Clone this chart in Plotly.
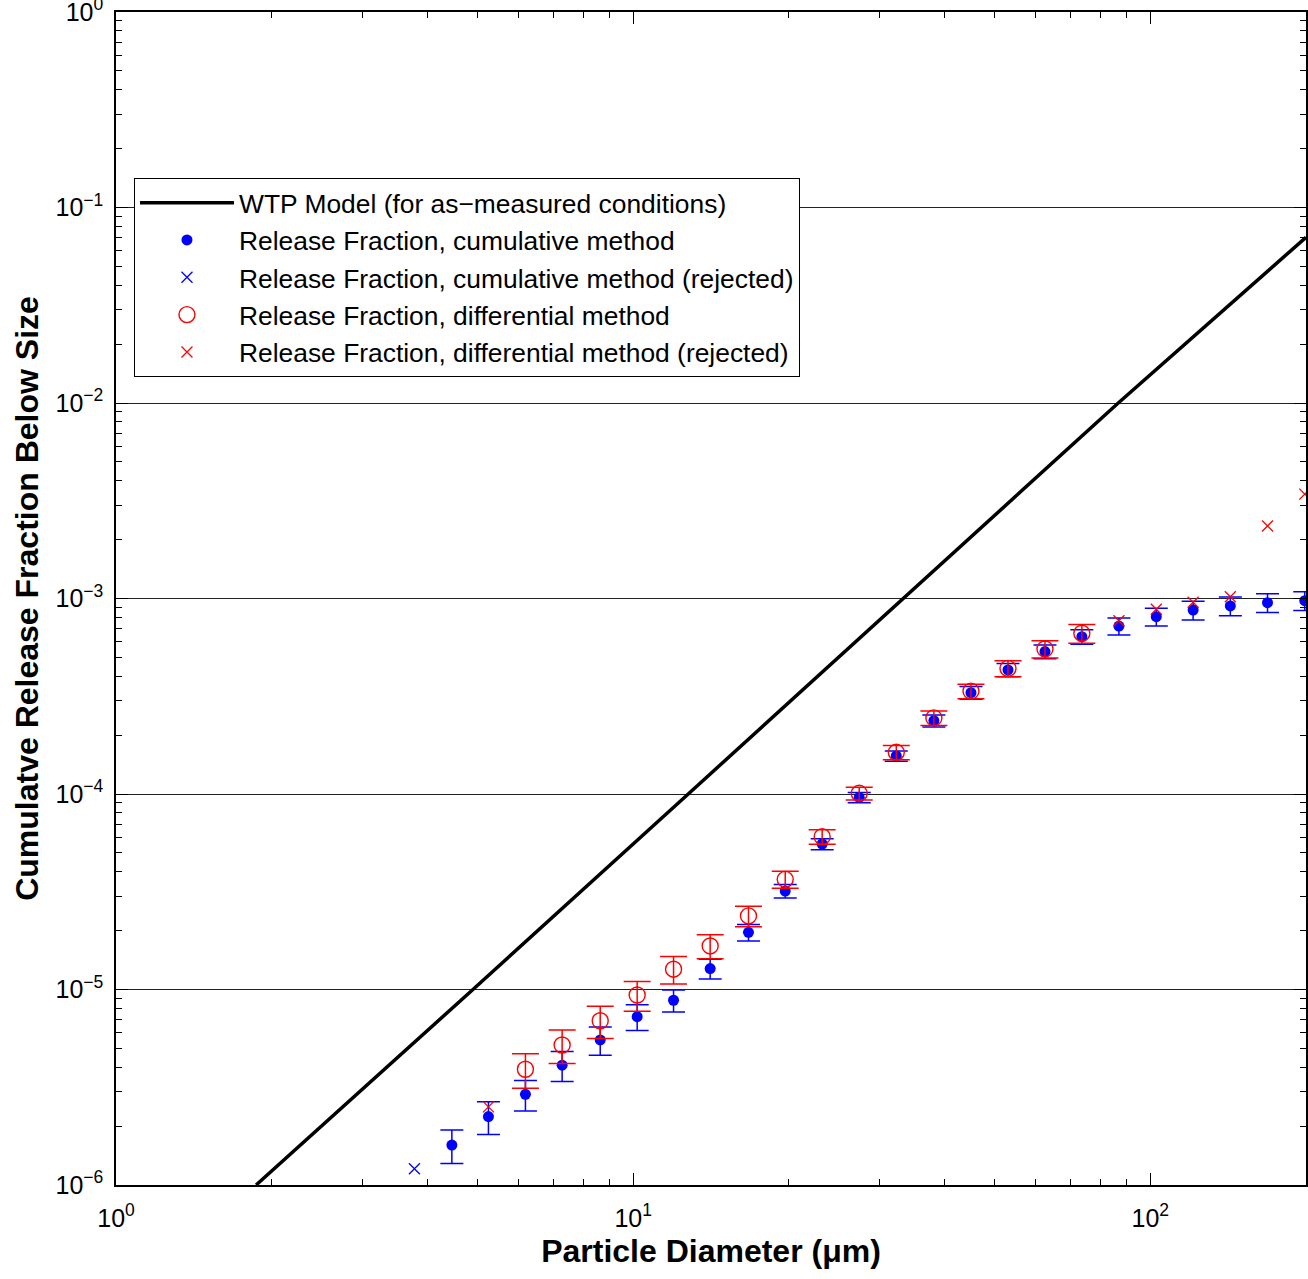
import plotly.graph_objects as go
import math

# ---------------- data ----------------
# WTP model line
wtp_x = [1.866, 4.90, 12.78, 33.3, 86.7, 200.0]
wtp_y = [1e-6, 1e-5, 1e-4, 1e-3, 1e-2, 0.0704]

# Release fraction, cumulative method (accepted)
cum_x = [4.461, 5.250, 6.190, 7.289, 8.636, 10.18, 11.97, 14.09, 16.71, 19.68,
         23.20, 27.36, 32.27, 38.15, 45.00, 53.06, 62.56, 73.72, 86.95, 102.7,
         121.0, 142.8, 168.5, 198.9]
cum_y = [1.60e-6, 2.24e-6, 2.91e-6, 4.10e-6, 5.52e-6, 7.26e-6, 8.81e-6, 1.28e-5,
         1.96e-5, 3.19e-5, 5.55e-5, 9.6e-5, 1.565e-4, 2.37e-4, 3.30e-4, 4.31e-4,
         5.35e-4, 6.38e-4, 7.23e-4, 8.07e-4, 8.73e-4, 9.16e-4, 9.52e-4, 9.75e-4]
cum_rel_err = [0.195, 0.19, 0.178, 0.175, 0.165, 0.15, 0.13, 0.115, 0.097, 0.08,
               0.065, 0.06, 0.06, 0.07, 0.075, 0.078, 0.082, 0.085, 0.10, 0.105,
               0.11, 0.11, 0.11, 0.11]

# Release fraction, cumulative method (rejected)
cumrej_x = [3.776]
cumrej_y = [1.21e-6]

# Release fraction, differential method (accepted)
dif_x = [6.190, 7.289, 8.636, 10.18, 11.97, 14.09, 16.71, 19.68, 23.20, 27.36,
         32.27, 38.15, 45.00, 53.06, 62.56, 73.72]
dif_y = [3.91e-6, 5.20e-6, 6.92e-6, 9.37e-6, 1.27e-5, 1.67e-5, 2.38e-5, 3.66e-5,
         6.05e-5, 1.008e-4, 1.634e-4, 2.45e-4, 3.36e-4, 4.39e-4, 5.52e-4, 6.64e-4]
dif_rel_err = [0.20, 0.195, 0.188, 0.173, 0.16, 0.14, 0.12, 0.10, 0.085, 0.075,
               0.085, 0.085, 0.085, 0.095, 0.10, 0.11]

# Release fraction, differential method (rejected)
difrej_x = [5.250, 86.95, 102.7, 121.0, 142.8, 168.5, 198.9]
difrej_y = [2.51e-6, 7.70e-4, 8.81e-4, 9.57e-4, 1.02e-3, 2.35e-3, 3.42e-3]

# axis ticks
x_major = [1, 10, 100]
x_major_text = ["10<sup>0</sup>", "10<sup>1</sup>", "10<sup>2</sup>"]
y_major = [1e-6, 1e-5, 1e-4, 1e-3, 1e-2, 1e-1, 1]
y_major_text = ["10<sup>−6</sup>", "10<sup>−5</sup>", "10<sup>−4</sup>", "10<sup>−3</sup>",
                "10<sup>−2</sup>", "10<sup>−1</sup>", "10<sup>0</sup>"]

x_minor = [m * 10 ** k for k in range(0, 3) for m in range(2, 10) if m * 10 ** k <= 200]
y_minor = [m * 10.0 ** k for k in range(-6, 0) for m in range(2, 10)]

FONT = "Liberation Sans, Arial, Helvetica, sans-serif"
BLUE = "#0000ff"
RED = "#ff0000"

fig = go.Figure()

fig.add_trace(go.Scatter(
    x=wtp_x, y=wtp_y, mode="lines",
    line=dict(color="black", width=3.5),
    name="WTP Model (for as−measured conditions)"))

fig.add_trace(go.Scatter(
    x=cum_x, y=cum_y, mode="markers",
    marker=dict(symbol="circle", size=11, color=BLUE),
    error_y=dict(type="data", array=[v * r for v, r in zip(cum_y, cum_rel_err)],
                 color=BLUE, thickness=1.5, width=11.5),
    cliponaxis=False,
    name="Release Fraction, cumulative method"))

fig.add_trace(go.Scatter(
    x=cumrej_x, y=cumrej_y, mode="markers",
    marker=dict(symbol="x-thin-open", size=11, color=BLUE, line=dict(color=BLUE, width=1.3)),
    cliponaxis=False,
    name="Release Fraction, cumulative method (rejected)"))

fig.add_trace(go.Scatter(
    x=dif_x, y=dif_y, mode="markers",
    marker=dict(symbol="circle-open", size=16, color=RED, line=dict(color=RED, width=1.4)),
    error_y=dict(type="data", array=[v * r for v, r in zip(dif_y, dif_rel_err)],
                 color=RED, thickness=1.5, width=13.5),
    cliponaxis=False,
    name="Release Fraction, differential method"))

fig.add_trace(go.Scatter(
    x=difrej_x, y=difrej_y, mode="markers",
    marker=dict(symbol="x-thin-open", size=11, color=RED, line=dict(color=RED, width=1.3)),
    cliponaxis=False,
    name="Release Fraction, differential method (rejected)"))

fig.update_layout(
    width=1308, height=1279,
    margin=dict(l=116, r=2, t=12, b=94, autoexpand=False),
    paper_bgcolor="white", plot_bgcolor="white",
    font=dict(family=FONT, size=25, color="black"),
    showlegend=True,
    legend=dict(
        x=0.0151, y=0.8585, xanchor="left", yanchor="top",
        bgcolor="white", bordercolor="black", borderwidth=1,
        font=dict(family=FONT, size=26.4, color="black"),
        itemwidth=94, traceorder="normal",
    ),
    xaxis=dict(
        type="log", range=[0, math.log10(200)], automargin=False,
        tickmode="array", tickvals=x_major, ticktext=x_major_text,
        ticks="inside", ticklen=12, tickwidth=1, tickcolor="black",
        showline=True, linecolor="black", linewidth=1.5, mirror="ticks",
        showgrid=False, zeroline=False,
        minor=dict(tickmode="array", tickvals=x_minor, ticks="inside",
                   ticklen=6, tickwidth=1, tickcolor="black", showgrid=False),
        ticklabelstandoff=10, ticklabeloverflow="allow",
        title=dict(text="<b>Particle Diameter (μm)</b>",
                   font=dict(family=FONT, size=32), standoff=9),
    ),
    yaxis=dict(
        type="log", range=[-6, 0], automargin=False,
        tickmode="array", tickvals=y_major, ticktext=y_major_text,
        ticks="inside", ticklen=12, tickwidth=1, tickcolor="black",
        showline=True, linecolor="black", linewidth=1.5, mirror="ticks",
        showgrid=True, gridcolor="#222222", gridwidth=1, zeroline=False,
        minor=dict(tickmode="array", tickvals=y_minor, ticks="inside",
                   ticklen=6, tickwidth=1, tickcolor="black", showgrid=False),
        ticklabelstandoff=6, ticklabeloverflow="allow",
        title=dict(text="<b>Cumulatve Release Fraction Below Size</b>",
                   font=dict(family=FONT, size=32), standoff=7),
    ),
)

fig.write_html(
    "out.html",
    config={"displayModeBar": False},
    post_script="document.body.style.margin='0';document.body.style.overflow='hidden';",
)
